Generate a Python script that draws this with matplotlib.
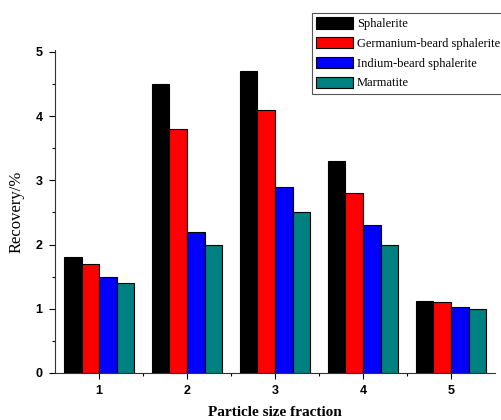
import numpy as np
import matplotlib
matplotlib.use("Agg")
import matplotlib.pyplot as plt
from matplotlib.ticker import MultipleLocator, FixedLocator

categories = [1, 2, 3, 4, 5]
sphalerite = [1.8, 4.5, 4.7, 3.3, 1.12]
germanium = [1.7, 3.8, 4.1, 2.8, 1.10]
indium = [1.5, 2.2, 2.9, 2.3, 1.03]
marmatite = [1.4, 2.0, 2.5, 2.0, 1.0]

series_names = ["Sphalerite", "Germanium-beard sphalerite",
                "Indium-beard sphalerite", "Marmatite"]
colors = ["#000000", "#ff0000", "#0000ff", "#008080"]

fig = plt.figure(figsize=(5.01, 4.2), dpi=100)
ax = fig.add_axes([0.11, 0.112, 0.878, 0.769])

x = np.array(categories)
width = 0.2
for i, (vals, name, c) in enumerate(zip([sphalerite, germanium, indium, marmatite],
                                        series_names, colors)):
    ax.bar(x + (i - 1.5) * width, vals, width, color=c, edgecolor="black",
           linewidth=0.8, label=name)

ax.set_xlim(0.5, 5.5)
ax.set_ylim(0, 5.03)
ax.set_xticks(categories)
ax.xaxis.set_minor_locator(FixedLocator([1.5, 2.5, 3.5, 4.5]))
ax.yaxis.set_major_locator(MultipleLocator(1))
ax.yaxis.set_minor_locator(MultipleLocator(0.5))
ax.spines["top"].set_visible(False)
ax.spines["right"].set_visible(False)
for s in ["left", "bottom"]:
    ax.spines[s].set_color("#333333")
ax.tick_params(which="major", length=4, width=0.8, labelsize=9, pad=5)
ax.tick_params(which="minor", length=2.5, width=0.8)
for lab in ax.get_xticklabels() + ax.get_yticklabels():
    lab.set_fontweight("bold")
    lab.set_fontfamily("Liberation Sans")

ax.set_ylabel("Recovery/%", fontfamily="Liberation Serif", fontsize=12, labelpad=8)
ax.set_xlabel("Particle size fraction", fontfamily="Liberation Serif", fontsize=11,
              fontweight="bold", labelpad=6)

leg = ax.legend(loc="upper left", bbox_to_anchor=(312 / 501, 1 - 13 / 420),
                bbox_transform=fig.transFigure, frameon=True,
                fancybox=False, edgecolor="#555555", framealpha=1,
                prop={"family": "Liberation Serif", "size": 9},
                handlelength=2.9, handleheight=1.0, handletextpad=0.35,
                labelspacing=0.55, borderpad=0.35, borderaxespad=0)
leg.get_frame().set_linewidth(0.8)

fig.savefig("out.png", dpi=100)
